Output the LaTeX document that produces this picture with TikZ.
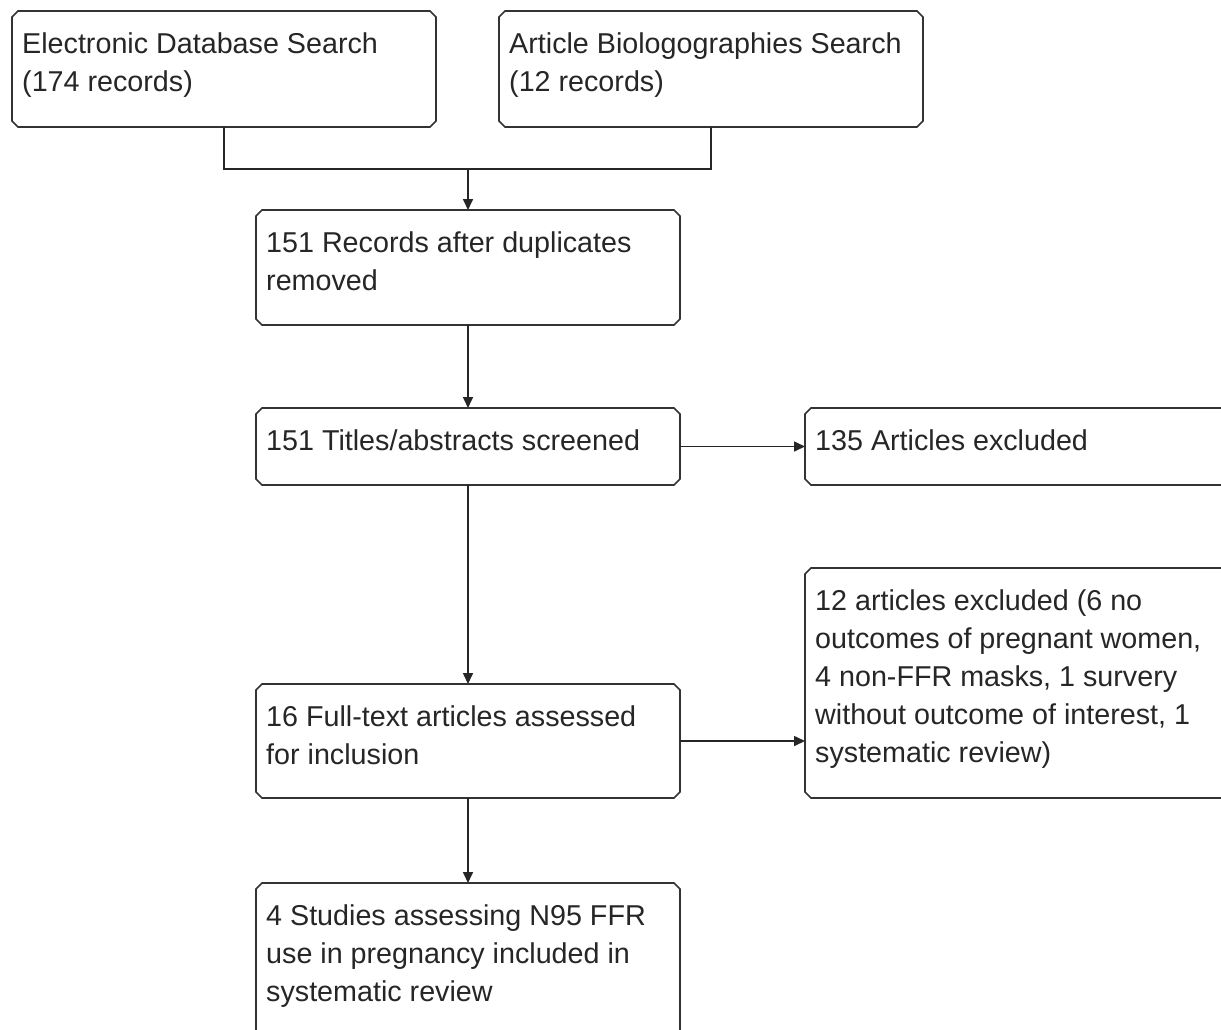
\documentclass[tikz,border=0pt]{standalone}
\usepackage{fontspec}
\setmainfont{Liberation Sans}
\usetikzlibrary{arrows.meta}
\newcommand\tstrut{\rule{0pt}{30pt}}
\tikzset{
  box/.style={rectangle, draw=none, inner sep=0pt, outer sep=0pt},
  outline/.style={draw=black!80, line width=1.6pt, line join=miter},
  txt/.style={anchor=north west, inner sep=0pt, align=left, text=black!85,
    font=\fontsize{28.7pt}{38pt}\selectfont},
  conn/.style={draw=black!85, line width=1.6pt},
  arr/.style={conn, -{Triangle[length=11pt,width=10pt]}},
}
\newcommand\chamferbox[1]{%
  \draw[outline] ([xshift=6pt]#1.north west) -- ([xshift=-6pt]#1.north east)
    -- ([yshift=-6pt]#1.north east) -- ([yshift=6pt]#1.south east)
    -- ([xshift=-6pt]#1.south east) -- ([xshift=6pt]#1.south west)
    -- ([yshift=6pt]#1.south west) -- ([yshift=-6pt]#1.north west) -- cycle;}
\begin{document}
\begin{tikzpicture}[x=1pt,y=-1pt]
\useasboundingbox[fill=white] (0,0) rectangle (1221,1029);
\clip (0,0) rectangle (1221,1029);
% boxes
\node[box, minimum width=424pt, minimum height=116pt] (b1) at (224,69) {};
\node[box, minimum width=424pt, minimum height=116pt] (b2) at (711,69) {};
\node[box, minimum width=424pt, minimum height=115pt] (b3) at (468,267.5) {};
\node[box, minimum width=424pt, minimum height=77pt] (b4) at (468,446.5) {};
\node[box, minimum width=430pt, minimum height=77pt] (b5) at (1020,446.5) {};
\node[box, minimum width=424pt, minimum height=114pt] (b6) at (468,741) {};
\node[box, minimum width=430pt, minimum height=230pt] (b7) at (1020,683) {};
\node[box, minimum width=424pt, minimum height=162pt] (b8) at (468,964) {};
\foreach \n in {b1,b2,b3,b4,b5,b6,b7,b8} {\chamferbox{\n}}
% texts
\node[txt] (t1) at ([shift={(10pt,-12pt)}]b1.north west) {\tstrut Electronic Database Search\\(174 records)};
\node[txt] (t2) at ([shift={(10pt,-12pt)}]b2.north west) {\tstrut Article Biologographies Search\\(12 records)};
\node[txt] (t3) at ([shift={(10pt,-12pt)}]b3.north west) {\tstrut 151 Records after duplicates\\removed};
\node[txt] (t4) at ([shift={(10pt,-12pt)}]b4.north west) {\tstrut 151 Titles/abstracts screened};
\node[txt] (t5) at ([shift={(10pt,-12pt)}]b5.north west) {\tstrut 135 Articles excluded};
\node[txt] (t6) at ([shift={(10pt,-12pt)}]b6.north west) {\tstrut 16 Full-text articles assessed\\for inclusion};
\node[txt] (t7) at ([shift={(10pt,-12pt)}]b7.north west) {\tstrut 12 articles excluded (6 no\\outcomes of pregnant women,\\4 non-FFR masks, 1 survery\\without outcome of interest, 1\\systematic review)};
\node[txt] (t8) at ([shift={(10pt,-12pt)}]b8.north west) {\tstrut 4 Studies assessing N95 FFR\\use in pregnancy included in\\systematic review};
% connectors
\coordinate (j) at (468,169);
\draw[conn] (b1.south) |- (j) -| (b2.south);
\draw[arr] (j) -- (b3.north);
\draw[arr] (b3.south) -- (b4.north);
\draw[arr] (b4.east) -- (b5.west);
\draw[arr] (b4.south) -- (b6.north);
\draw[arr] (b6.east) -- (b6.east -| b7.west);
\draw[arr] (b6.south) -- (b8.north);
\end{tikzpicture}
\end{document}
